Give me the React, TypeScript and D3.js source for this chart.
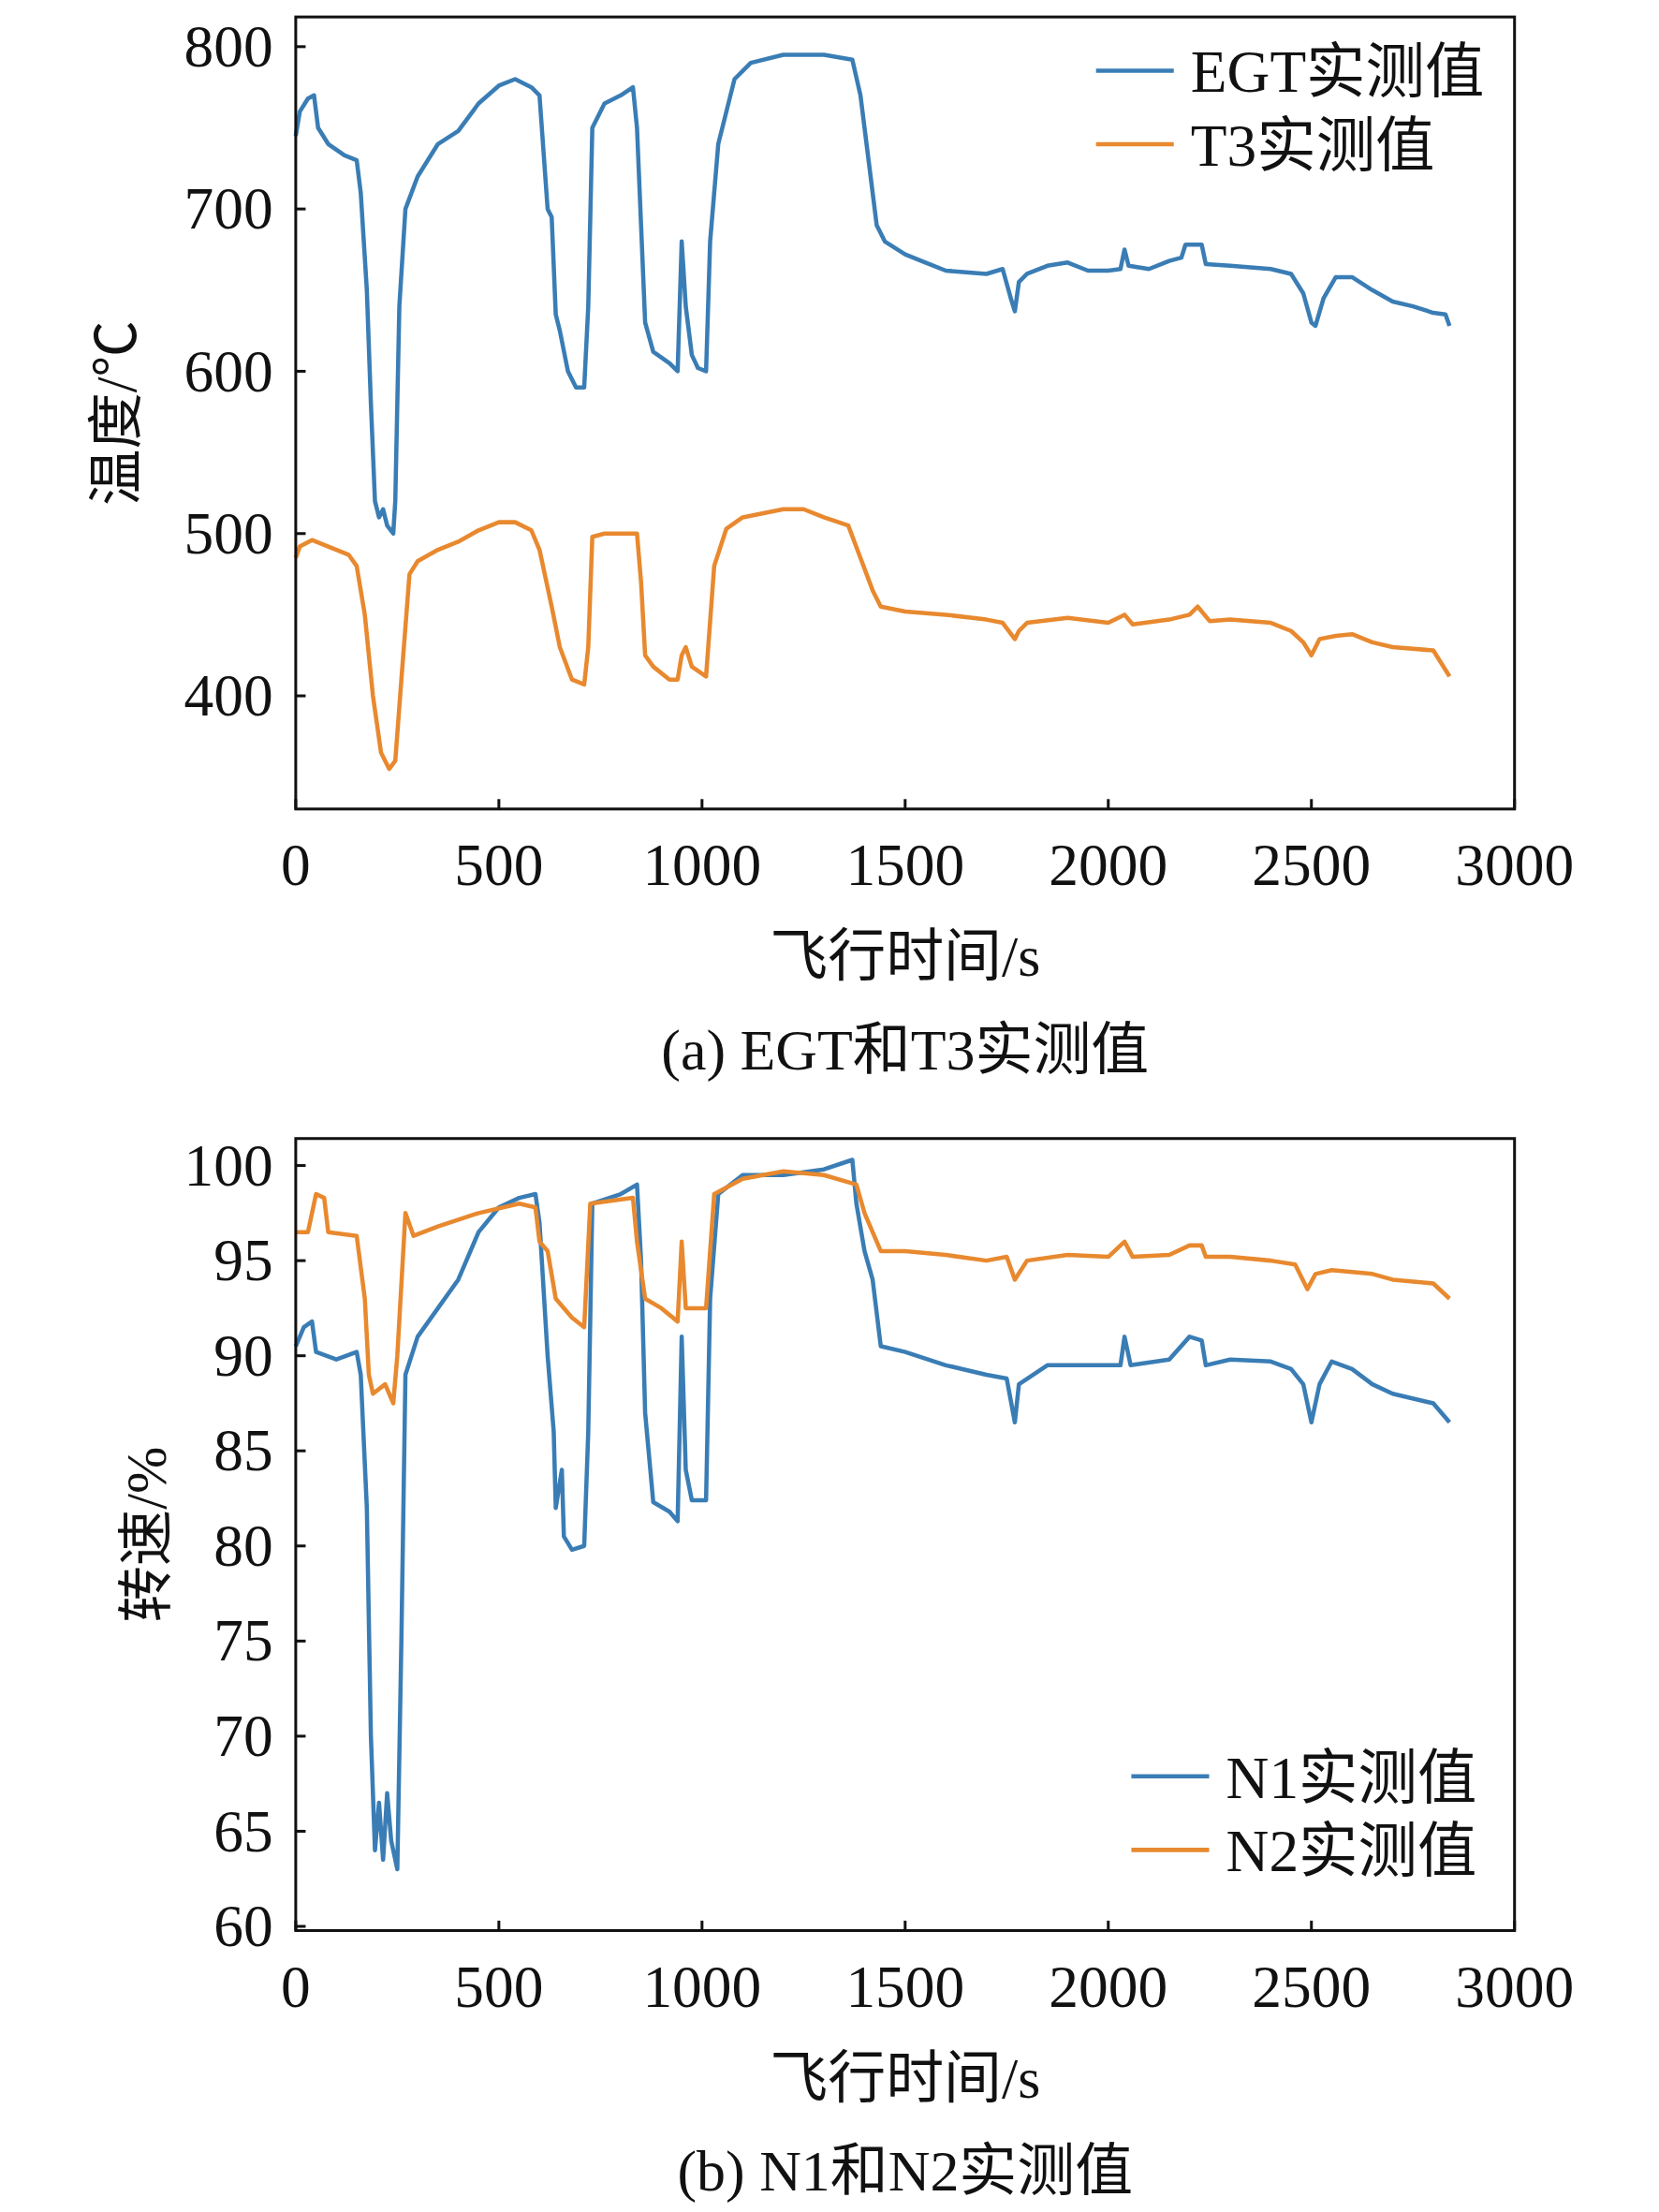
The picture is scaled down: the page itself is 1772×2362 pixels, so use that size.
import React from "react";
import * as d3 from "d3";

const egt: [number, number][] = [[0,745],[10,760],[30,768],[45,770],[55,750],[80,740],[120,733],[150,730],[160,710],[175,650],[185,580],[195,520],[205,510],[215,515],[225,505],[240,500],[245,520],[255,640],[270,700],[300,720],[350,740],[400,748],[450,765],[500,776],[540,780],[580,775],[600,770],[620,700],[630,695],[640,635],[650,625],[670,600],[690,590],[710,590],[720,640],[730,750],[760,765],[800,770],[830,775],[840,750],[860,630],[880,612],[920,605],[940,600],[950,680],[960,640],[975,610],[990,602],[1010,600],[1020,680],[1040,740],[1080,780],[1120,790],[1200,795],[1300,795],[1370,792],[1390,770],[1410,730],[1430,690],[1450,680],[1500,672],[1550,667],[1600,662],[1700,660],[1740,663],[1760,645],[1770,637],[1780,655],[1800,660],[1850,665],[1900,667],[1950,662],[2000,662],[2030,663],[2040,675],[2050,665],[2100,663],[2150,668],[2180,670],[2190,678],[2230,678],[2240,666],[2300,665],[2400,663],[2450,660],[2480,648],[2500,630],[2510,628],[2530,645],[2560,658],[2600,658],[2650,650],[2700,643],[2750,640],[2800,636],[2830,635],[2840,628]];
const t3: [number, number][] = [[0,485],[10,492],[40,496],[80,492],[130,487],[150,480],[170,450],[190,400],[210,365],[230,355],[245,360],[260,410],[280,475],[300,483],[350,490],[400,495],[450,502],[500,507],[540,507],[580,502],[600,490],[630,455],[650,430],[680,410],[710,407],[720,430],[730,498],[760,500],[840,500],[850,470],[860,425],[880,418],[920,410],[940,410],[950,425],[960,430],[975,418],[1010,412],[1030,480],[1060,503],[1100,510],[1200,515],[1250,515],[1300,510],[1360,505],[1390,485],[1420,465],[1440,455],[1500,452],[1600,450],[1700,447],[1740,445],[1770,435],[1780,440],[1800,445],[1900,448],[2000,445],[2040,450],[2060,444],[2150,447],[2200,450],[2220,455],[2250,446],[2300,447],[2400,445],[2450,440],[2480,433],[2500,425],[2520,435],[2560,437],[2600,438],[2650,433],[2700,430],[2800,428],[2840,412]];
const n1: [number, number][] = [[0,90.5],[20,91.5],[40,91.8],[50,90.2],[100,89.8],[150,90.2],[160,89],[175,82],[185,70],[195,64],[205,66.5],[215,63.5],[225,67],[235,64.5],[250,63],[260,75],[270,89],[300,91],[350,92.5],[400,94],[450,96.5],[500,97.8],[550,98.3],[590,98.5],[600,97],[620,90],[635,86],[640,82],[655,84],[660,80.5],[680,79.8],[710,80],[720,86],[730,98],[800,98.5],[840,99],[850,95],[860,87],[880,82.3],[920,81.8],[940,81.3],[950,91],[960,84],[975,82.4],[1010,82.4],[1020,93],[1040,98.5],[1100,99.5],[1200,99.5],[1300,99.8],[1370,100.3],[1380,98],[1400,95.5],[1420,94],[1440,90.5],[1500,90.2],[1600,89.5],[1700,89],[1750,88.8],[1770,86.5],[1780,88.5],[1850,89.5],[1950,89.5],[2030,89.5],[2040,91],[2055,89.5],[2150,89.8],[2200,91],[2230,90.8],[2240,89.5],[2300,89.8],[2400,89.7],[2450,89.3],[2480,88.5],[2500,86.5],[2520,88.5],[2550,89.7],[2600,89.3],[2650,88.5],[2700,88],[2800,87.5],[2840,86.5]];
const n2: [number, number][] = [[0,96.5],[30,96.5],[50,98.5],[70,98.3],[80,96.5],[150,96.3],[170,93],[180,89],[190,88],[220,88.5],[240,87.5],[250,90],[270,97.5],[290,96.3],[350,96.8],[450,97.5],[550,98],[590,97.8],[600,96],[620,95.5],[640,93],[680,92],[710,91.5],[725,98],[830,98.3],[840,96],[860,93],[900,92.5],[940,91.8],[950,96],[960,92.5],[1010,92.5],[1030,98.5],[1100,99.3],[1200,99.7],[1300,99.5],[1380,99],[1400,97.5],[1440,95.5],[1500,95.5],[1600,95.3],[1700,95],[1750,95.2],[1770,94],[1800,95],[1900,95.3],[2000,95.2],[2040,96],[2060,95.2],[2150,95.3],[2200,95.8],[2230,95.8],[2240,95.2],[2300,95.2],[2400,95],[2460,94.8],[2490,93.5],[2510,94.3],[2550,94.5],[2650,94.3],[2700,94],[2800,93.8],[2840,93]];
const xTicks = [0, 500, 1000, 1500, 2000, 2500, 3000];
const tTicks = [400, 500, 600, 700, 800];
const nTicks = [60, 65, 70, 75, 80, 85, 90, 95, 100];

const BLUE = "#3a7db5";
const ORANGE = "#e8892f";
const FONT = "'Liberation Serif','Noto Sans CJK SC',serif";

function Panel({ top, yDomain, yTicks, series, yLabel, yLabelX, legendY, legendX, caption }: any) {
  const L = 209, R = 1071, T = top, B = top + 560;
  const x = d3.scaleLinear().domain([0, 3000]).range([L, R]);
  const y = d3.scaleLinear().domain(yDomain).range([B, T]);
  const line = d3.line<[number, number]>().x(d => x(d[0])).y(d => y(d[1]));
  return (
    <g fontFamily={FONT} fill="#111">
      {series.map((s: any, i: number) => (
        <path key={i} d={line(s.data)!} fill="none" stroke={s.color} strokeWidth={3} strokeLinejoin="round" />
      ))}
      <rect x={L} y={T} width={R - L} height={B - T} fill="none" stroke="#111" strokeWidth={2} />
      {xTicks.map(v => (
        <g key={v}>
          <line x1={x(v)} x2={x(v)} y1={B} y2={B - 7} stroke="#111" strokeWidth={2} />
          <text x={x(v)} y={B + 54} textAnchor="middle" fontSize={42}>{v}</text>
        </g>
      ))}
      {yTicks.map((v: number) => (
        <g key={v}>
          <line x1={L} x2={L + 7} y1={y(v)} y2={y(v)} stroke="#111" strokeWidth={2} />
          <text x={L - 16} y={y(v) + 14} textAnchor="end" fontSize={42}>{v}</text>
        </g>
      ))}
      <text transform={`translate(${yLabelX},${(T + B) / 2}) rotate(-90)`} textAnchor="middle" fontSize={40}>{yLabel}</text>
      <text x={640} y={B + 118} textAnchor="middle" fontSize={41}>飞行时间/s</text>
      <text x={640} y={B + 184} textAnchor="middle" fontSize={41}>{caption}</text>
      {series.map((s: any, i: number) => (
        <g key={i}>
          <line x1={legendX} x2={legendX + 55} y1={legendY + i * 52} y2={legendY + i * 52} stroke={s.color} strokeWidth={3} />
          <text x={legendX + 67} y={legendY + i * 52 + 15} fontSize={42}>{s.name}</text>
        </g>
      ))}
    </g>
  );
}

export default function App() {
  return (
    <svg width={1772} height={2362} viewBox="0 0 1173 1564"
      style={{ position: "absolute", left: 0, top: 0, display: "block", background: "#fff" }}>
      <rect width={1173} height={1564} fill="#fff" />
      <Panel top={12} yDomain={[330.3, 818.3]} yTicks={tTicks}
        series={[{ data: egt, color: BLUE, name: "EGT实测值" }, { data: t3, color: ORANGE, name: "T3实测值" }]}
        yLabel="温度/℃" yLabelX={96} legendX={775} legendY={50} caption="(a) EGT和T3实测值" />
      <Panel top={805} yDomain={[59.78, 101.42]} yTicks={nTicks}
        series={[{ data: n1, color: BLUE, name: "N1实测值" }, { data: n2, color: ORANGE, name: "N2实测值" }]}
        yLabel="转速/%" yLabelX={117} legendX={800} legendY={1256} caption="(b) N1和N2实测值" />
    </svg>
  );
}
